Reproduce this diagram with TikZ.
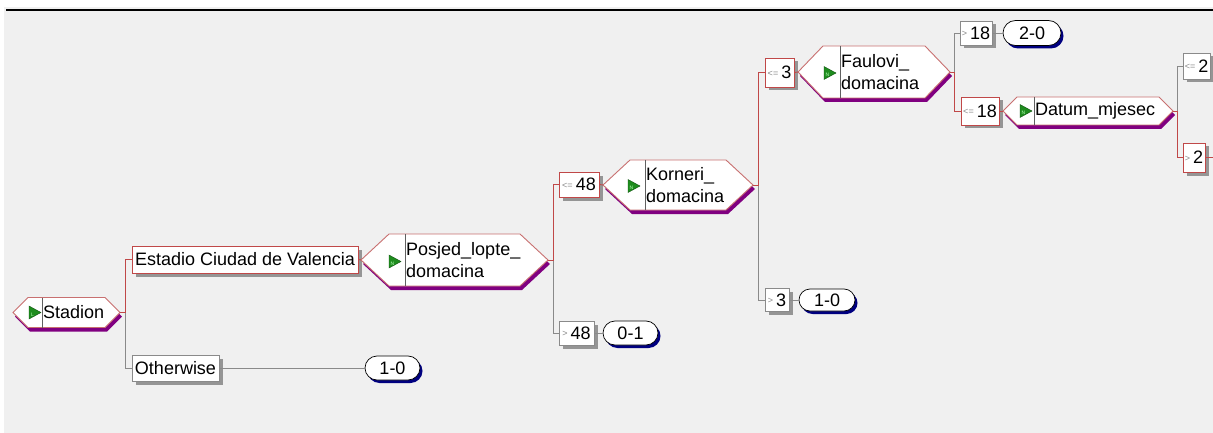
\documentclass[tikz,border=0pt]{standalone}
\usepackage{fontspec}
\setmainfont{Liberation Sans}
\usetikzlibrary{shadows,shapes.misc}
\definecolor{bg}{HTML}{F0F0F0}
\definecolor{redline}{HTML}{C04848}
\definecolor{grayline}{HTML}{8A8A8A}
\definecolor{hexred}{HTML}{C87070}
\definecolor{shpurple}{HTML}{800080}
\definecolor{shnavy}{HTML}{000080}
\definecolor{shgray}{HTML}{959595}
\definecolor{trigreen}{HTML}{1E8C1E}
\definecolor{divgray}{HTML}{606060}
\newcommand\lesym{\raisebox{2.5pt}{\fontsize{9}{9}\selectfont\color{grayline}<=}\,}
\newcommand\gtsym{\raisebox{2.5pt}{\fontsize{9}{9}\selectfont\color{grayline}>}\,}
% #1 name, #2 left tip x, #3 right tip x, #4 centre y, #5 half height, #6 pointer length, #7 divider x
\newcommand\hexshape[7]{%
  \coordinate (#1-w) at (#2,#4);
  \coordinate (#1-e) at (#3,#4);
  \begin{scope}[shift={(2,4)}]
    \fill[shpurple] (#2,#4) -- (#2+#6,#4-#5) -- (#3-#6,#4-#5) -- (#3,#4) -- (#3-#6,#4+#5) -- (#2+#6,#4+#5) -- cycle;
  \end{scope}
  \draw[hexborder] (#2,#4) -- (#2+#6,#4-#5) -- (#3-#6,#4-#5) -- (#3,#4) -- (#3-#6,#4+#5) -- (#2+#6,#4+#5) -- cycle;
  \draw[divgray, line width=0.8pt] (#7,#4-#5) -- (#7,#4+#5);
}
% #1 name, #2 x, #3 y, #4 letter
\newcommand\gtri[4]{%
  \fill[trigreen, draw=trigreen!60!black, line width=0.4pt] (#2,#3-6.5) -- (#2,#3+6.5) -- (#2+12,#3) -- cycle;
  \node[font=\fontsize{5}{5}\selectfont, text=green!30!white, inner sep=0pt] (#1) at (#2+3.5,#3+2) {#4};
}
\tikzset{
  base/.style={font=\fontsize{18}{21.5}\selectfont, text=black, inner sep=0pt},
  redbox/.style={base, draw=redline, fill=white, line width=0.9pt,
    general shadow={fill=shgray, shadow xshift=3.5pt, shadow yshift=-3.5pt}},
  graybox/.style={base, draw=grayline, fill=white, line width=0.9pt,
    general shadow={fill=shgray, shadow xshift=3.5pt, shadow yshift=-3.5pt}},
  oval/.style={base, rounded rectangle, draw=black, fill=white, line width=0.7pt,
    general shadow={fill=shnavy, shadow xshift=2.5pt, shadow yshift=-3pt}},
  hexborder/.style={draw=hexred, fill=white, line width=0.9pt},
  hextext/.style={base, anchor=west, align=left},
  redc/.style={draw=redline, line width=0.9pt},
  grayc/.style={draw=grayline, line width=0.9pt},
}
\begin{document}
\begin{tikzpicture}[x=1pt,y=-1pt]
\useasboundingbox (0,0) rectangle (1213,433);
\fill[white] (0,0) rectangle (1213,433);
\fill[bg] (4,7) rectangle (1213,433);
\draw[black, line width=1.4pt] (6,10) -- (1213,10);

% boxes and leaves
\node[redbox, minimum width=226, minimum height=27] (estadio) at (245,259.5) {Estadio Ciudad de Valencia};
\node[graybox, minimum width=87, minimum height=26] (otherwise) at (175.5,368) {Otherwise};
\node[oval, minimum width=55, minimum height=24] (leafA) at (392.5,368) {1-0};
\node[redbox, minimum width=40, minimum height=25] (le48) at (579,184.5) {\lesym48};
\node[graybox, minimum width=35, minimum height=24] (gt48) at (576.5,333) {\gtsym48};
\node[oval, minimum width=55, minimum height=24] (leafB) at (630.5,333) {0-1};
\node[redbox, minimum width=29, minimum height=29] (le3) at (779.5,72.5) {\lesym3};
\node[graybox, minimum width=24, minimum height=23] (gt3) at (777,300) {\gtsym3};
\node[oval, minimum width=56, minimum height=22] (leafC) at (827,300) {1-0};
\node[graybox, minimum width=32, minimum height=24] (gt18) at (976,33) {\gtsym18};
\node[oval, minimum width=58, minimum height=25] (leafD) at (1032,33) {2-0};
\node[redbox, minimum width=38, minimum height=28] (le18) at (980,111) {\lesym18};
\node[graybox, minimum width=27, minimum height=26] (le2) at (1196.5,66) {\lesym2};
\node[redbox, minimum width=22, minimum height=29] (gt2) at (1194,157.5) {\gtsym2};

% split nodes
\hexshape{stadion}{13}{120}{312.5}{15}{15}{42}
\gtri{stadionL}{29}{312.5}{L}
\node[hextext] (stadionT) at (43,312.5) {Stadion};

\hexshape{posjed}{361}{548}{260}{26}{28}{405}
\gtri{posjedN}{389}{261.5}{N}
\node[hextext] (posjedT) at (406,260) {Posjed\_lopte\_\\domacina};

\hexshape{korneri}{603}{753}{185}{25}{27}{645}
\gtri{korneriN}{628}{186}{N}
\node[hextext] (korneriT) at (646,185) {Korneri\_\\domacina};

\hexshape{faulovi}{798}{950}{72}{26}{25}{840}
\gtri{fauloviN}{824}{73}{N}
\node[hextext] (fauloviT) at (841,72) {Faulovi\_\\domacina};

\hexshape{datum}{1003}{1173}{111}{14}{14}{1034}
\gtri{datumN}{1020}{111}{N}
\node[hextext] (datumT) at (1035,111) {Datum\_mjesec};

% junctions
\coordinate (j1) at (125,312.5);
\coordinate (j2) at (553,260);
\coordinate (j3) at (758,185);
\coordinate (j4) at (954,72);
\coordinate (j5) at (1177,111);
\coordinate (rightend) at (1213,157.5);

% connectors
\draw[grayc] (j1) |- (otherwise.west);
\draw[redc] (stadion-e) -- (j1) |- (estadio.west);
\draw[grayc] (otherwise.east) -- (leafA.west);
\draw[redc] (estadio.east) -- (posjed-w);

\draw[grayc] (j2) |- (gt48.west);
\draw[redc] (posjed-e) -- (j2) |- (le48.west);
\draw[grayc] (gt48.east) -- (leafB.west);
\draw[redc] (le48.east) -- (korneri-w);

\draw[grayc] (j3) |- (gt3.west);
\draw[redc] (korneri-e) -- (j3) |- (le3.west);
\draw[grayc] (gt3.east) -- (leafC.west);
\draw[redc] (le3.east) -- (faulovi-w);

\draw[grayc] (j4) |- (gt18.west);
\draw[redc] (faulovi-e) -- (j4) |- (le18.west);
\draw[grayc] (gt18.east) -- (leafD.west);
\draw[redc] (le18.east) -- (datum-w);

\draw[grayc] (j5) |- (le2.west);
\draw[redc] (datum-e) -- (j5) |- (gt2.west);
\draw[redc] (gt2.east) -- (rightend);
\end{tikzpicture}
\end{document}
